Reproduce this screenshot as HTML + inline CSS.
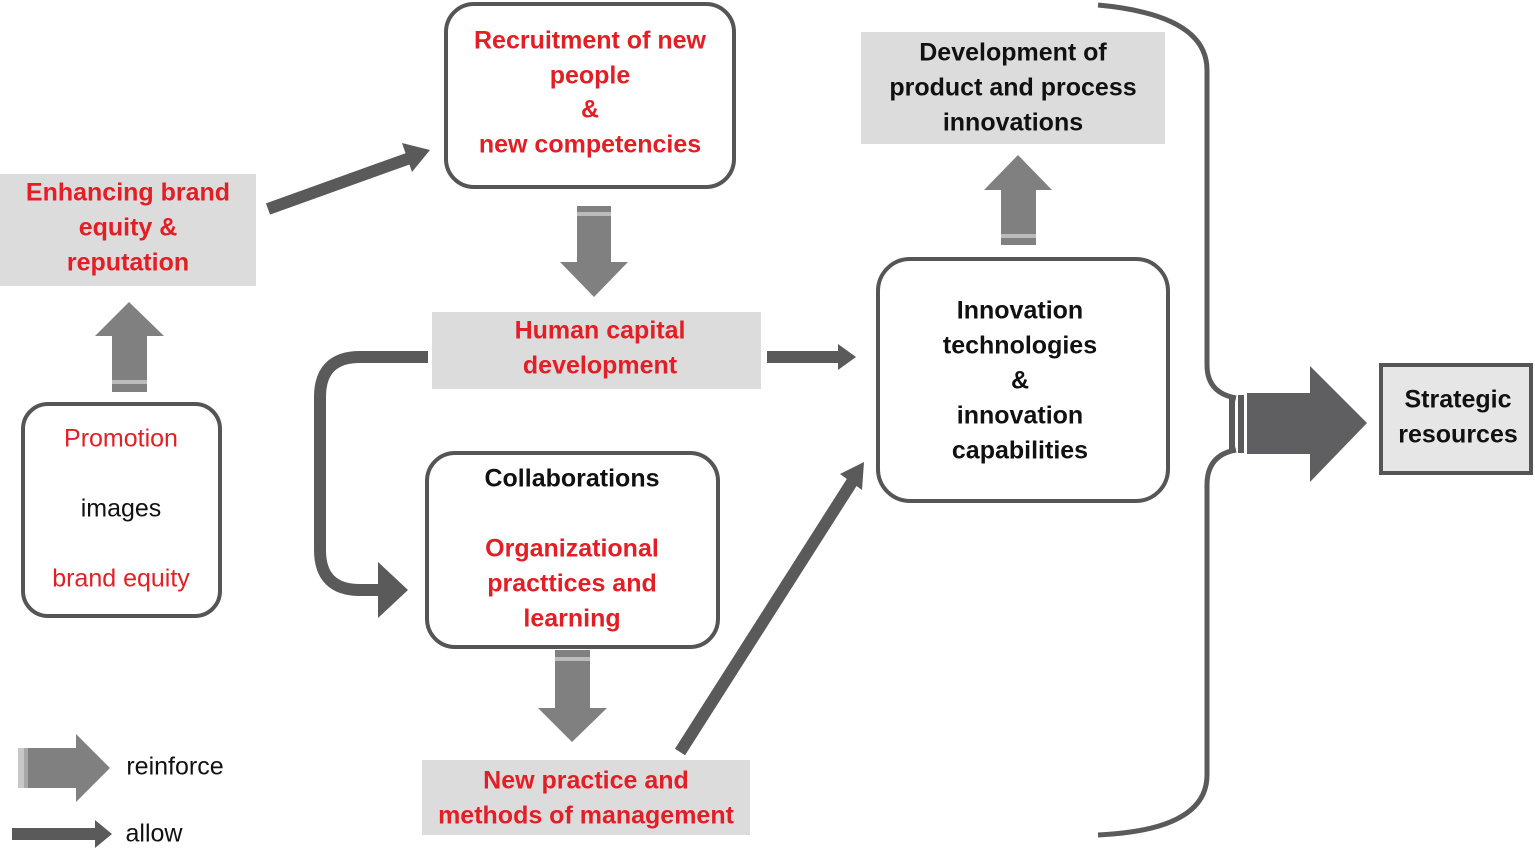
<!DOCTYPE html>
<html><head><meta charset="utf-8"><style>
html,body{margin:0;padding:0;background:#fff;}
svg{display:block;}
text{font-family:"Liberation Sans",sans-serif;text-anchor:middle;dominant-baseline:middle;}
.r{fill:#e31e24;font-weight:bold;font-size:25px;}
.b{fill:#111;font-weight:bold;font-size:25px;}
.rn{fill:#e31e24;font-size:25px;}
.bn{fill:#111;font-size:25px;}
.box{fill:#fff;stroke:#555;stroke-width:4;}
.g{fill:#dcdcdc;}
.ra{fill:#808080;}
.al{stroke:#5a5a5a;stroke-width:12;fill:none;}
.alh{fill:#5a5a5a;}
</style></head><body>
<svg width="1535" height="854" viewBox="0 0 1535 854">
<rect class="g" x="0" y="174" width="256" height="112"/>
<g transform="translate(0,2)">
<text class="r" x="128" y="192">Enhancing brand</text>
<text class="r" x="128" y="227">equity &amp;</text>
<text class="r" x="128" y="262">reputation</text>
</g>
<rect class="box" x="23" y="404" width="197" height="212" rx="25"/>
<g transform="translate(0,2)">
<text class="rn" x="121" y="438">Promotion</text>
<text class="bn" x="121" y="508">images</text>
<text class="rn" x="121" y="578">brand equity</text>
</g>
<polygon class="ra" points="112,392 112,336 95,336 129,302 164,336 147,336 147,392"/>
<rect x="112" y="380" width="35" height="4" fill="#bbb"/>
<line class="al" x1="268" y1="209" x2="410" y2="158"/>
<polygon class="alh" points="402,143 430,150 412,172"/>
<rect class="box" x="446" y="4" width="288" height="183" rx="28"/>
<g transform="translate(0,2)">
<text class="r" x="590" y="40">Recruitment of new</text>
<text class="r" x="590" y="75">people</text>
<text class="r" x="590" y="109">&amp;</text>
<text class="r" x="590" y="144">new competencies</text>
</g>
<polygon class="ra" points="577,206 611,206 611,262 628,262 594,297 560,262 577,262"/>
<rect x="577" y="212" width="34" height="4" fill="#bbb"/>
<rect class="g" x="432" y="312" width="329" height="77"/>
<g transform="translate(0,2)">
<text class="r" x="600" y="330">Human capital</text>
<text class="r" x="600" y="365">development</text>
</g>
<line class="al" x1="767" y1="357" x2="840" y2="357"/>
<polygon class="alh" points="838,344 856,357 838,370"/>
<path d="M428,357 L360,357 Q320,357 320,397 L320,550 Q320,590 360,590 L382,590" stroke="#5a5a5a" stroke-width="12" fill="none"/>
<polygon class="alh" points="378,562 408,590 378,618"/>
<rect class="box" x="427" y="453" width="291" height="194" rx="28"/>
<g transform="translate(0,2)">
<text class="b" x="572" y="478">Collaborations</text>
<text class="r" x="572" y="548">Organizational</text>
<text class="r" x="572" y="583">practtices and</text>
<text class="r" x="572" y="618">learning</text>
</g>
<polygon class="ra" points="555,650 590,650 590,708 607,708 572,742 538,708 555,708"/>
<rect x="555" y="657" width="35" height="4" fill="#bbb"/>
<rect class="g" x="422" y="760" width="328" height="75"/>
<g transform="translate(0,2)">
<text class="r" x="586" y="780">New practice and</text>
<text class="r" x="586" y="815">methods of management</text>
</g>
<line class="al" x1="680" y1="752" x2="852" y2="482"/>
<polygon class="alh" points="840,474 864,462 862,490"/>
<rect class="box" x="878" y="259" width="290" height="242" rx="32"/>
<g transform="translate(0,2)">
<text class="b" x="1020" y="310">Innovation</text>
<text class="b" x="1020" y="345">technologies</text>
<text class="b" x="1020" y="380">&amp;</text>
<text class="b" x="1020" y="415">innovation</text>
<text class="b" x="1020" y="450">capabilities</text>
</g>
<polygon class="ra" points="1001,245 1001,190 984,190 1018,155 1052,190 1036,190 1036,245"/>
<rect x="1001" y="234" width="35" height="4" fill="#bbb"/>
<rect class="g" x="861" y="32" width="304" height="112"/>
<g transform="translate(0,2)">
<text class="b" x="1013" y="52">Development of</text>
<text class="b" x="1013" y="87">product and process</text>
<text class="b" x="1013" y="122">innovations</text>
</g>
<path d="M1098,5 Q1207,15 1207,70 L1207,365 Q1207,393 1236,398" stroke="#5a5a5a" stroke-width="5" fill="none"/>
<path d="M1236,450 Q1207,455 1207,485 L1207,775 Q1207,830 1098,835" stroke="#5a5a5a" stroke-width="5" fill="none"/>
<rect x="1229" y="395" width="6" height="58" fill="#5a5a5a"/>
<rect x="1238" y="395" width="6" height="58" fill="#5a5a5a"/>
<polygon fill="#5f5f61" points="1247,393 1310,393 1310,366 1367,423 1310,482 1310,454 1247,454"/>
<rect x="1381" y="365" width="150" height="108" fill="#e6e6e6" stroke="#555" stroke-width="4"/>
<text class="b" x="1458" y="401">Strategic</text>
<text class="b" x="1458" y="436">resources</text>
<polygon class="ra" points="18,748 76,748 76,734 110,768 76,802 76,788 18,788"/>
<rect x="18" y="748" width="6" height="40" fill="#c8c8c8"/>
<rect x="24" y="748" width="4" height="40" fill="#a8a8a8"/>
<text class="bn" x="175" y="768">reinforce</text>
<line class="al" x1="12" y1="834" x2="98" y2="834"/>
<polygon class="alh" points="95,820 112,834 95,848"/>
<text class="bn" x="154" y="835">allow</text>
</svg>
</body></html>
